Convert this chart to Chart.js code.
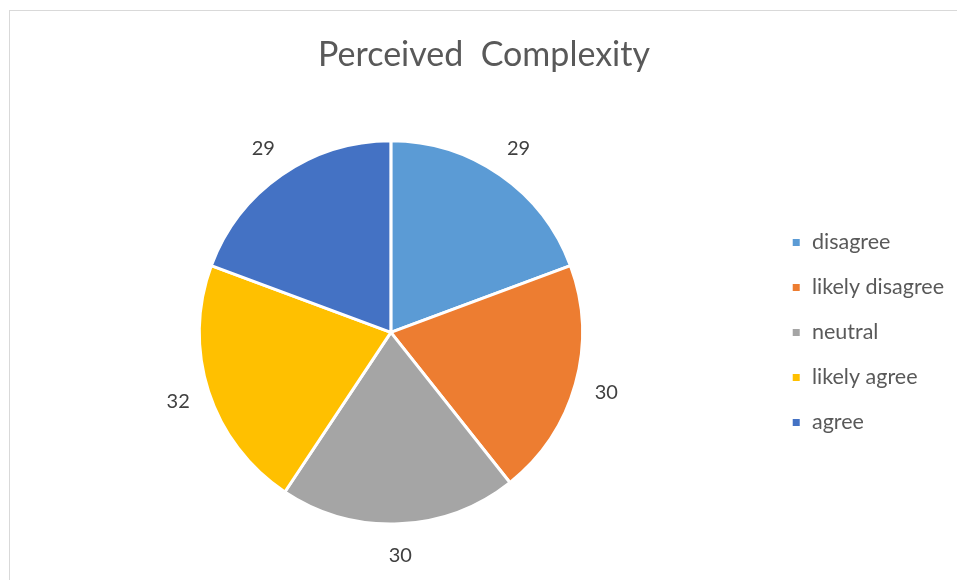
<!DOCTYPE html>
<html>
<head>
<meta charset="utf-8">
<script src="https://cdn.jsdelivr.net/npm/chart.js@4/dist/chart.umd.min.js"></script>
<style>
  html, body { margin: 0; padding: 0; background: #fff; }
  #wrap { position: relative; width: 957px; height: 580px; overflow: hidden; }
  /* cadre gris clair du graphique */
  #frame { position: absolute; left: 9px; top: 10px; width: 1000px; height: 700px; border: 1px solid #d9d9d9; box-sizing: border-box; }
  #chart { position: absolute; left: 0; top: 0; }
</style>
</head>
<body>
<div id="wrap">
  <div id="frame"></div>
  <canvas id="chart" width="957" height="580"></canvas>
</div>
<script>
// --- données ---
const categories = ['disagree', 'likely disagree', 'neutral', 'likely agree', 'agree'];
const counts = [29, 30, 30, 32, 29];
const sliceColors = ['#5B9BD5', '#ED7D31', '#A5A5A5', '#FFC000', '#4472C4'];
const chartTitle = 'Perceived  Complexity';

const FONT = 'Lato, "Open Sans", sans-serif';

// étiquettes de valeur à l'extérieur de chaque part
const outsideLabels = {
  id: 'outsideLabels',
  afterDatasetsDraw(chart) {
    const ctx = chart.ctx;
    const meta = chart.getDatasetMeta(0);
    ctx.save();
    ctx.font = '20px ' + FONT;
    ctx.fillStyle = '#404040';
    ctx.textAlign = 'center';
    ctx.textBaseline = 'middle';
    meta.data.forEach((arc, i) => {
      const p = arc.getProps(['x', 'y', 'startAngle', 'endAngle', 'outerRadius'], true);
      const mid = (p.startAngle + p.endAngle) / 2;
      const r = p.outerRadius + 32;
      ctx.fillText(String(counts[i]), p.x + Math.cos(mid) * r, p.y + Math.sin(mid) * r);
    });
    ctx.restore();
  }
};

new Chart(document.getElementById('chart'), {
  type: 'pie',
  data: {
    labels: categories,
    datasets: [{
      data: counts,
      backgroundColor: sliceColors,
      borderColor: '#ffffff',
      borderWidth: 3
    }]
  },
  options: {
    responsive: false,
    animation: false,
    layout: { padding: { top: 35, bottom: 54.5, left: 14, right: 3 } },
    plugins: {
      title: {
        display: true,
        text: chartTitle,
        color: '#595959',
        font: { family: FONT, size: 34, weight: 'normal' },
        padding: { top: 0, bottom: 63.5 }
      },
      legend: {
        position: 'right',
        fullSize: false,
        labels: {
          color: '#595959',
          font: { family: FONT, size: 21.5 },
          boxWidth: 10,
          boxHeight: 10,
          padding: 23.5
        }
      },
      tooltip: { enabled: false }
    }
  },
  plugins: [outsideLabels]
});
</script>
</body>
</html>
